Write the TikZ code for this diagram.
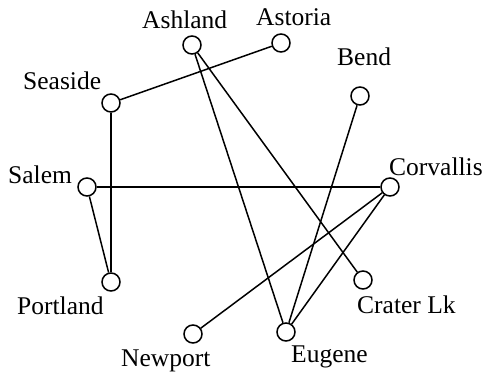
\documentclass[tikz,border=0pt]{standalone}
\usepackage{fontspec}
\setmainfont{Liberation Serif}
\begin{document}
\begin{tikzpicture}[x=1pt,y=-1pt,
  vert/.style={circle,draw,line width=1.5pt,minimum size=18pt,inner sep=0pt,fill=white},
  lbl/.style={anchor=base west,inner sep=0pt,font=\fontsize{25.5}{30}\selectfont},
  edge/.style={line width=1.5pt}]
\useasboundingbox (0,0) rectangle (488,375);
\node[vert] (ashland) at (192,45) {};
\node[vert] (astoria) at (281,43) {};
\node[vert] (seaside) at (111,103) {};
\node[vert] (bend) at (360,96) {};
\node[vert] (salem) at (87,187) {};
\node[vert] (corvallis) at (390,187) {};
\node[vert] (portland) at (111,282) {};
\node[vert] (newport) at (193,334) {};
\node[vert] (craterlk) at (363,280) {};
\node[vert] (eugene) at (286,332) {};
\node[lbl] (lashland) at (142,28) {Ashland};
\node[lbl] (lastoria) at (256,25) {Astoria};
\node[lbl] (lseaside) at (23,89) {Seaside};
\node[lbl] (lbend) at (337,65) {Bend};
\node[lbl] (lsalem) at (8,183) {Salem};
\node[lbl] (lcorvallis) at (389,175) {Corvallis};
\node[lbl] (lportland) at (17,314) {Portland};
\node[lbl] (lnewport) at (121,366) {Newport};
\node[lbl] (lcraterlk) at (357,313) {Crater Lk};
\node[lbl] (leugene) at (291,362) {Eugene};
\draw[edge] (seaside) -- (astoria);
\draw[edge] (seaside) -- (portland);
\draw[edge] (salem) -- (corvallis);
\draw[edge] (salem) -- (portland);
\draw[edge] (ashland) -- (eugene);
\draw[edge] (ashland) -- (craterlk);
\draw[edge] (bend) -- (eugene);
\draw[edge] (corvallis) -- (newport);
\draw[edge] (corvallis) -- (eugene);
\end{tikzpicture}
\end{document}
